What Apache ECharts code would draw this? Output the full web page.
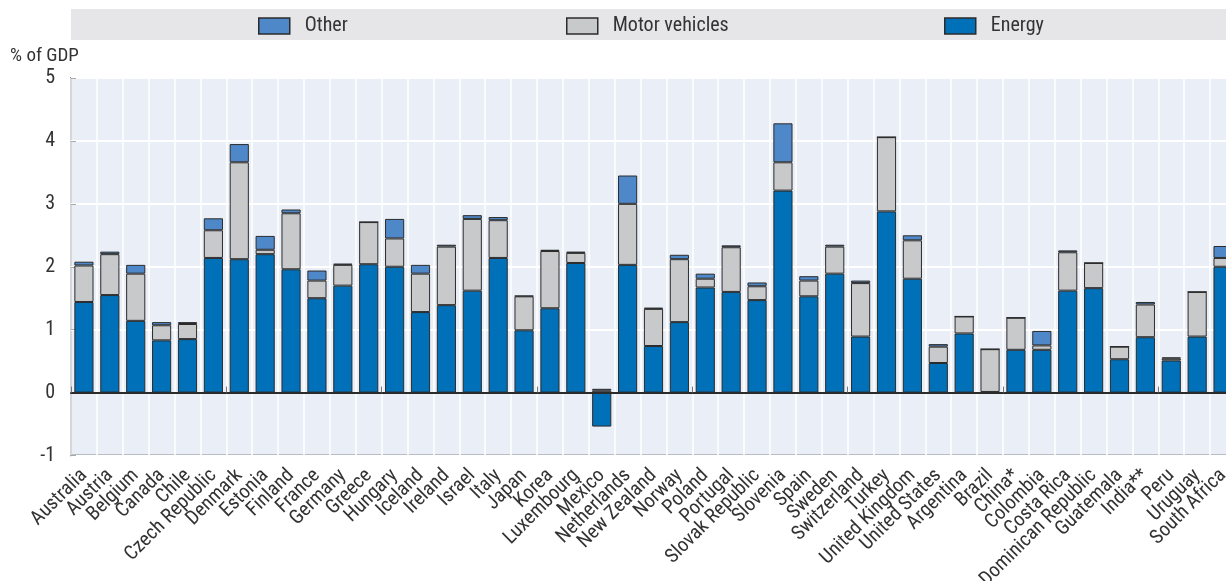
<!DOCTYPE html>
<html>
<head>
<meta charset="utf-8">
<script src="https://cdn.jsdelivr.net/npm/echarts@6/dist/echarts.min.js"></script>
<style>
html,body{margin:0;padding:0;background:#fff;}
#chart{width:1226px;height:581px;}
</style>
</head>
<body>
<div id="chart"></div>
<script>
var categories = ["Australia","Austria","Belgium","Canada","Chile","Czech Republic","Denmark","Estonia","Finland","France","Germany","Greece","Hungary","Iceland","Ireland","Israel","Italy","Japan","Korea","Luxembourg","Mexico","Netherlands","New Zealand","Norway","Poland","Portugal","Slovak Republic","Slovenia","Spain","Sweden","Switzerland","Turkey","United Kingdom","United States","Argentina","Brazil","China*","Colombia","Costa Rica","Dominican Republic","Guatemala","India**","Peru","Uruguay","South Africa"];
var energy = [1.44,1.55,1.14,0.83,0.85,2.14,2.12,2.20,1.96,1.50,1.70,2.04,2.00,1.28,1.39,1.62,2.14,0.99,1.34,2.06,-0.54,2.03,0.74,1.12,1.67,1.60,1.47,3.21,1.53,1.89,0.89,2.88,1.81,0.47,0.94,0.01,0.68,0.68,1.62,1.66,0.53,0.88,0.51,0.89,2.00];
var motorVehicles = [0.58,0.65,0.75,0.24,0.24,0.44,1.54,0.07,0.89,0.28,0.33,0.67,0.45,0.61,0.93,1.14,0.60,0.54,0.91,0.16,0.03,0.97,0.59,1.00,0.14,0.71,0.22,0.45,0.25,0.43,0.85,1.18,0.61,0.26,0.27,0.68,0.51,0.07,0.61,0.40,0.20,0.52,0.03,0.71,0.14];
var other = [0.06,0.04,0.14,0.05,0.03,0.19,0.29,0.22,0.06,0.16,0.02,0,0.31,0.14,0.03,0.06,0.05,0.01,0.02,0.02,0.03,0.45,0.02,0.07,0.08,0.03,0.06,0.62,0.07,0.03,0.04,0,0.08,0.04,0,0,0,0.23,0.03,0,0,0.04,0.02,0,0.19];
var yTicks = {min:-1, max:5, interval:1};

// pick the first installed condensed font
function pickFont(list){
  var c = document.createElement('canvas').getContext('2d');
  var s = 'Australia Motor vehicles 0123';
  c.font = '40px monospace'; var m = c.measureText(s).width;
  c.font = '40px serif'; var sf = c.measureText(s).width;
  for (var i = 0; i < list.length; i++){
    c.font = "40px '" + list[i] + "', monospace"; var a = c.measureText(s).width;
    c.font = "40px '" + list[i] + "', serif"; var b = c.measureText(s).width;
    if (a !== m || b !== sf) return "'" + list[i] + "'";
  }
  return 'sans-serif';
}
var FONT = pickFont(['Liberation Sans Narrow','Arial Narrow','Roboto Condensed','Open Sans Condensed','DejaVu Sans Condensed','Liberation Sans']) + ', sans-serif';

var C_ENERGY = '#0070B8', C_MOTOR = '#C8C9CB', C_OTHER = '#4F88C8';
var BORDER = '#2b2b2b';

var chart = echarts.init(document.getElementById('chart'), null, {renderer:'canvas'});

function legendAt(name, left){
  return {
    data:[{name:name, icon:'rect'}], left:left, top:11, itemWidth:31, itemHeight:16,
    itemStyle:{borderColor:BORDER, borderWidth:1.5},
    textStyle:{fontFamily:FONT, fontSize:20, color:'#333', padding:[0,0,0,10]},
    selectedMode:false
  };
}

function barSeries(name, data, color){
  return {
    name:name, type:'bar', stack:'total', data:data, barWidth:'74%',
    xAxisIndex:0, yAxisIndex:0,
    itemStyle:{color:color, borderColor:BORDER, borderWidth:1},
    emphasis:{disabled:true}, animation:false
  };
}

var option = {
  animation:false,
  graphic:[
    {type:'rect', shape:{x:71, y:9, width:1155, height:31}, style:{fill:'#E6E6E8'}, z:-1, silent:true},
    {type:'text', left:10, top:47, style:{text:'% of GDP', font:'19px ' + FONT, fill:'#333'}}
  ],
  legend:[legendAt('Other',253), legendAt('Motor vehicles',561), legendAt('Energy',939)],
  grid:{left:71, top:78, width:1165, height:377.5, show:true, backgroundColor:'#E9EEF7', borderColor:'#2b2b2b', borderWidth:1.5, containLabel:false, outerBoundsMode:'none'},
  xAxis:[
    {type:'category', data:categories, position:'bottom',
     axisLine:{show:false, onZero:false}, axisTick:{show:false},
     splitLine:{show:true, lineStyle:{color:'#ffffff', width:1.5}},
     axisLabel:{rotate:45, interval:0, margin:17, fontFamily:FONT, fontSize:20, color:'#333'}},
    {type:'category', data:categories, position:'bottom',
     axisLine:{show:true, onZero:true, lineStyle:{color:'#2b2b2b', width:2}},
     axisTick:{show:true, inside:true, length:6, lineStyle:{color:'#777', width:1}},
     axisLabel:{show:false}, splitLine:{show:false}, z:5}
  ],
  yAxis:{type:'value', min:yTicks.min, max:yTicks.max, interval:yTicks.interval,
    axisLine:{show:false}, axisTick:{show:true, inside:true, length:5, lineStyle:{color:'#aaa'}},
    splitLine:{show:true, lineStyle:{color:'#ffffff', width:2}},
    axisLabel:{margin:16, fontFamily:FONT, fontSize:20, color:'#333'}},
  series:[
    barSeries('Energy', energy, C_ENERGY),
    barSeries('Motor vehicles', motorVehicles, C_MOTOR),
    barSeries('Other', other, C_OTHER)
  ]
};
chart.setOption(option);
</script>
</body>
</html>
